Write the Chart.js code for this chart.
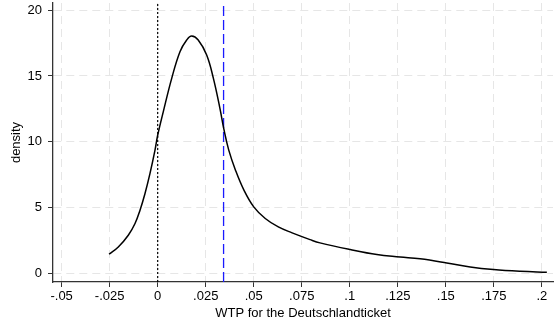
<!DOCTYPE html>
<html>
<head>
<meta charset="utf-8">
<script src="https://cdn.jsdelivr.net/npm/chart.js@4"></script>
<style>
  html, body { margin: 0; padding: 0; background: #fff; }
  #wrap { width: 554px; height: 324px; }
</style>
</head>
<body>
<div id="wrap"><canvas id="chart" width="554" height="324"></canvas></div>
<script>
// kernel density of WTP
const wtpValues = [-0.0253, -0.0205, -0.0153, -0.0118, -0.0092, -0.0066, -0.004, -0.0014, 0, 0.0029, 0.0073, 0.0116, 0.0151, 0.0177, 0.0211, 0.0255, 0.029, 0.0324, 0.0344, 0.037, 0.0405, 0.0449, 0.05, 0.056, 0.0628, 0.07, 0.0793, 0.0845, 0.1002, 0.1141, 0.1262, 0.1366, 0.1505, 0.1627, 0.1748, 0.1887, 0.2026];
const densityValues = [1.47, 2.02, 2.91, 3.8, 4.81, 6.08, 7.6, 9.37, 10.5, 12.28, 14.82, 16.84, 17.73, 18.03, 17.73, 16.59, 14.82, 12.54, 11.0, 9.37, 7.85, 6.33, 5.06, 4.18, 3.54, 3.09, 2.58, 2.33, 1.82, 1.44, 1.26, 1.12, 0.81, 0.5, 0.3, 0.17, 0.1];

const xTicks = [-0.05, -0.025, 0, 0.025, 0.05, 0.075, 0.1, 0.125, 0.15, 0.175, 0.2];
const yTicks = [0, 5, 10, 15, 20];
const zeroLineX = 0;
const meanLineX = 0.0343;

const X_MIN = -0.0545, X_MAX = 0.2058;
const Y_MIN = -0.64, Y_MAX = 20.54;

// stata style: .025, -.05, 0
function stataNum(v) {
  if (Math.abs(v) < 1e-9) return "0";
  let s = String(Number(v.toFixed(3)));
  return s.replace(/^0\./, ".").replace(/^-0\./, "-.");
}

const curve = wtpValues.map((x, i) => ({ x: x, y: densityValues[i] }));

const font = { family: "'Liberation Sans', Arial, sans-serif", size: 13 };
const gridColor = "#e6e6e6";
const axisColor = "#333333";

new Chart(document.getElementById("chart"), {
  type: "scatter",
  data: {
    datasets: [
      {
        data: curve,
        showLine: true,
        borderColor: "#000",
        borderWidth: 1.5,
        pointRadius: 0,
        tension: 0.4,
      },
      {
        data: [{ x: zeroLineX, y: Y_MIN }, { x: zeroLineX, y: Y_MAX }],
        showLine: true,
        borderColor: "#000",
        borderWidth: 1.2,
        borderDash: [2, 2],
        pointRadius: 0,
      },
      {
        data: [{ x: meanLineX, y: Y_MIN }, { x: meanLineX, y: Y_MAX }],
        showLine: true,
        borderColor: "#1a1aff",
        borderWidth: 1.3,
        borderDash: [10, 4],
        pointRadius: 0,
      },
    ],
  },
  options: {
    responsive: false,
    animation: false,
    layout: { padding: { top: 3, right: 1, left: 0, bottom: 0 } },
    plugins: { legend: { display: false }, tooltip: { enabled: false } },
    scales: {
      x: {
        type: "linear",
        min: X_MIN,
        max: X_MAX,
        afterBuildTicks: (s) => { s.ticks = xTicks.map((v) => ({ value: v })); },
        afterFit: (s) => { s.height = 42; s.paddingLeft = 0; s.paddingRight = 0; },
        ticks: {
          color: "#000",
          font: font,
          padding: 2,
          maxRotation: 0,
          autoSkip: false,
          callback: (v) => stataNum(v),
        },
        grid: { color: gridColor, tickColor: axisColor, tickLength: 5, tickBorderDash: [] },
        border: { display: true, color: axisColor, width: 1.3, dash: [8, 5] },
        title: {
          display: true,
          text: "WTP for the Deutschlandticket",
          color: "#000",
          font: font,
          padding: { top: 0, bottom: 3 },
        },
      },
      y: {
        min: Y_MIN,
        max: Y_MAX,
        afterBuildTicks: (s) => { s.ticks = yTicks.map((v) => ({ value: v })); },
        afterFit: (s) => { s.width = 53; s.paddingTop = 0; s.paddingBottom = 0; },
        ticks: { color: "#000", font: font, padding: 6 },
        grid: { color: gridColor, tickColor: axisColor, tickLength: 5, tickBorderDash: [] },
        border: { display: true, color: axisColor, width: 1.3, dash: [8, 5] },
        title: {
          display: true,
          text: "density",
          color: "#000",
          font: font,
          padding: { top: 9, bottom: 0 },
        },
      },
    },
  },
});
</script>
</body>
</html>
